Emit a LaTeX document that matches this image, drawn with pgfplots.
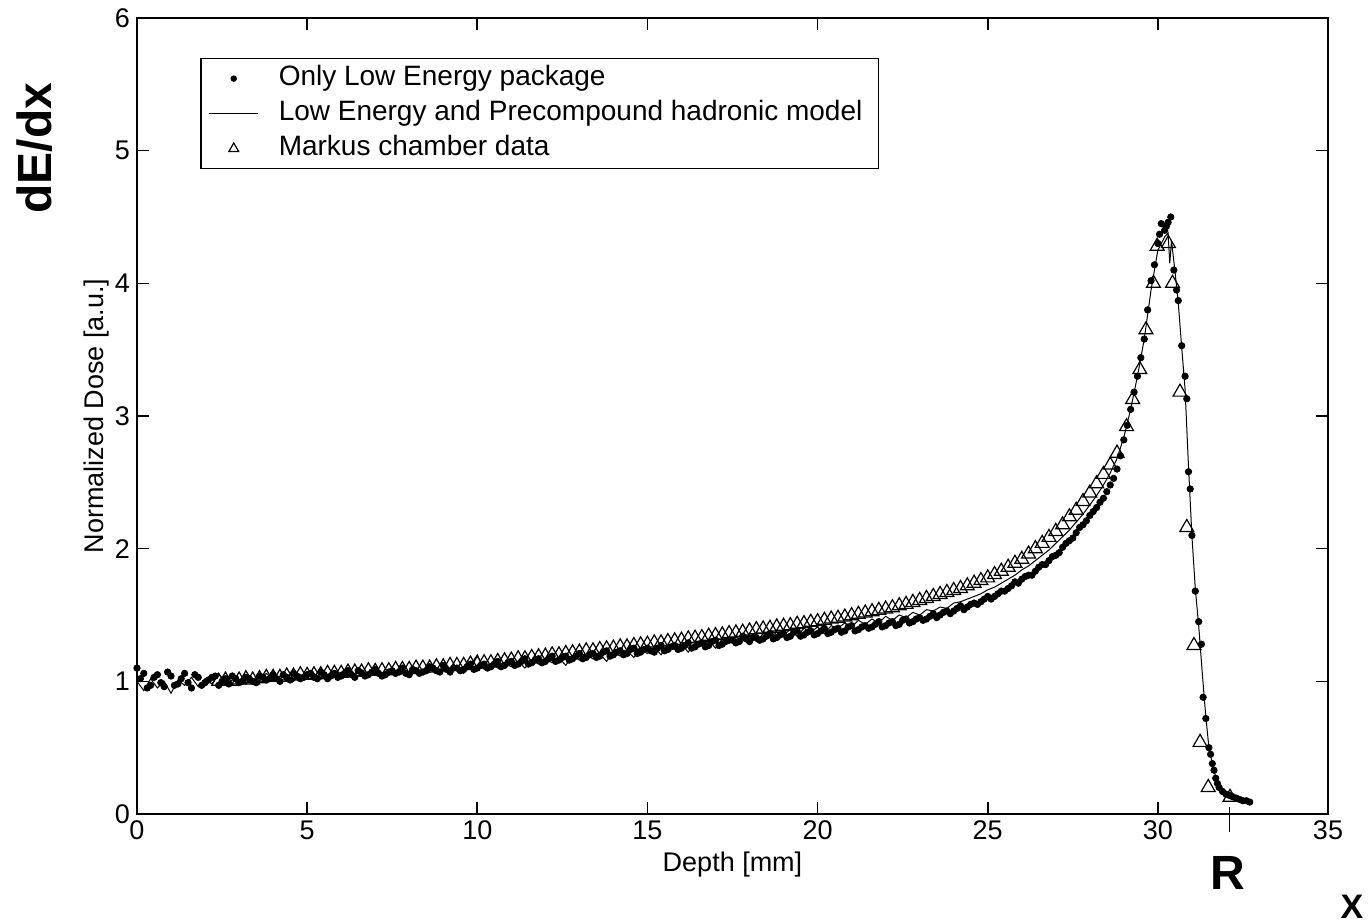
\documentclass[border=0pt]{standalone}
\usepackage{pgfplots}
\pgfplotsset{compat=1.18}
\usepackage{fontspec}
\setmainfont{Liberation Sans}
\begin{document}
\begin{tikzpicture}
\useasboundingbox (-68.5pt,-54.5pt) rectangle (616pt,407pt);
\begin{axis}[
 at={(0,0)}, anchor=south west,
 width=595.5pt, height=398pt, scale only axis,
 xmin=0, xmax=35, ymin=0, ymax=6,
 xtick={0,5,...,35}, ytick={0,1,...,6},
 tick align=inside, major tick length=6pt,
 tick style={black, line width=0.8pt},
 axis line style={line width=0.8pt},
 /pgf/number format/assume math mode=true,
 ticklabel style={font=\fontsize{13.5}{16}\selectfont},
 xlabel={Depth [mm]}, ylabel={Normalized Dose [a.u.]},
 label style={font=\fontsize{13.5}{16}\selectfont},
 xlabel style={at={(axis description cs:0.5,-0.064)}, anchor=center},
 ylabel style={at={(axis description cs:-0.0336,0.5)}, anchor=center},
 legend cell align=left,
 legend image code/.code={\draw[mark repeat=2,mark phase=2,#1] plot coordinates {(0pt,0pt) (12.25pt,0pt) (24.5pt,0pt)};},
 legend style={at={(axis cs:1.85,5.70)}, anchor=north west, draw=black, line width=0.8pt,
   font=\fontsize{14}{16}\selectfont, inner xsep=4pt, inner ysep=2.5pt, row sep=2.5pt,
   nodes={inner ysep=1pt, inner xsep=4pt, text height=10pt, text depth=3pt},
   /tikz/every odd column/.append style={column sep=6pt}},
]
\addplot[only marks, mark=*, mark size=1.6pt, black, legend image post style={mark size=1.2pt}] table {
0.0 1.10
0.2 1.06
0.4 0.97
0.6 1.05
0.8 0.96
1.0 1.04
1.2 0.98
1.4 1.06
1.6 0.95
1.8 1.03
2.0 0.99
2.2 1.03
2.4 0.97
2.6 1.02
2.8 1.04
3.0 0.99
3.2 1.03
3.4 1.00
3.6 1.04
3.8 1.01
4.0 1.05
4.2 1.00
4.4 1.03
4.6 1.06
4.8 1.02
5.0 1.05
5.2 1.03
5.4 1.07
5.6 1.02
5.8 1.06
6.0 1.04
6.2 1.08
6.4 1.03
6.6 1.06
6.8 1.05
7.0 1.09
7.2 1.04
7.4 1.07
7.6 1.06
7.8 1.10
8.0 1.05
8.2 1.08
8.4 1.07
8.6 1.11
8.8 1.08
9.0 1.12
9.2 1.07
9.4 1.10
9.6 1.09
9.8 1.13
10.0 1.10
10.2 1.13
10.4 1.11
10.6 1.15
10.8 1.12
11.0 1.15
11.2 1.13
11.4 1.17
11.6 1.14
11.8 1.17
12.0 1.15
12.2 1.19
12.4 1.16
12.6 1.19
12.8 1.17
13.0 1.21
13.2 1.18
13.4 1.21
13.6 1.19
13.8 1.23
14.0 1.20
14.2 1.23
14.4 1.21
14.6 1.25
14.8 1.22
15.0 1.25
15.2 1.22
15.4 1.27
15.6 1.24
15.8 1.27
16.0 1.25
16.2 1.29
16.4 1.26
16.6 1.29
16.8 1.27
17.0 1.31
17.2 1.28
17.4 1.31
17.6 1.29
17.8 1.34
18.0 1.30
18.2 1.33
18.4 1.32
18.6 1.36
18.8 1.33
19.0 1.36
19.2 1.34
19.4 1.38
19.6 1.35
19.8 1.38
20.0 1.36
20.2 1.40
20.4 1.37
20.6 1.40
20.8 1.38
21.0 1.42
21.2 1.39
21.4 1.42
21.6 1.41
21.8 1.45
22.0 1.42
22.2 1.45
22.4 1.43
22.6 1.47
22.8 1.45
23.0 1.48
23.2 1.47
23.4 1.51
23.6 1.50
23.8 1.53
24.0 1.53
24.2 1.57
24.4 1.56
24.6 1.59
24.8 1.60
25.0 1.64
25.2 1.64
25.4 1.68
25.6 1.70
25.8 1.75
26.0 1.77
26.2 1.80
26.4 1.83
26.6 1.88
26.8 1.91
27.0 1.95
27.2 2.01
27.4 2.06
27.6 2.12
27.8 2.18
28.0 2.25
28.2 2.31
28.4 2.38
28.6 2.48
28.8 2.60
29.0 2.82
29.1 2.93
29.2 3.05
29.3 3.18
29.4 3.30
29.5 3.44
29.6 3.58
29.7 3.80
29.8 4.02
29.9 4.14
30.0 4.30
30.05 4.37
30.1 4.45
30.2 4.40
30.25 4.43
30.3 4.46
30.38 4.50
30.47 4.10
30.55 3.95
30.6 3.87
30.7 3.53
30.8 3.30
30.85 3.13
30.9 2.58
30.95 2.45
31.0 2.10
31.1 1.68
31.2 1.45
31.28 1.28
31.33 0.88
31.41 0.72
31.5 0.50
31.55 0.45
31.6 0.38
31.65 0.33
31.7 0.27
31.75 0.23
31.8 0.20
31.9 0.17
32.0 0.15
32.1 0.14
32.2 0.13
32.3 0.12
32.4 0.11
32.5 0.10
32.6 0.10
32.7 0.09
0.1 1.02
0.3 0.95
0.5 1.03
0.7 0.99
0.9 1.07
1.1 0.97
1.3 1.02
1.5 0.99
1.7 1.05
1.9 0.97
2.1 1.01
2.3 1.04
2.5 1.00
2.7 0.98
2.9 1.02
3.1 1.00
3.3 1.02
3.5 0.99
3.7 1.03
3.9 1.02
4.1 1.02
4.3 1.05
4.5 1.01
4.7 1.04
4.9 1.03
5.1 1.06
5.3 1.02
5.5 1.05
5.7 1.04
5.9 1.03
6.1 1.06
6.3 1.05
6.5 1.08
6.7 1.04
6.9 1.07
7.1 1.06
7.3 1.05
7.5 1.08
7.7 1.07
7.9 1.06
8.1 1.09
8.3 1.06
8.5 1.08
8.7 1.10
8.9 1.07
9.1 1.09
9.3 1.10
9.5 1.08
9.7 1.11
9.9 1.09
10.1 1.12
10.3 1.10
10.5 1.13
10.7 1.11
10.9 1.14
11.1 1.12
11.3 1.15
11.5 1.13
11.7 1.16
11.9 1.14
12.1 1.17
12.3 1.15
12.5 1.18
12.7 1.16
12.9 1.19
13.1 1.17
13.3 1.20
13.5 1.18
13.7 1.22
13.9 1.19
14.1 1.22
14.3 1.20
14.5 1.24
14.7 1.21
14.9 1.24
15.1 1.23
15.3 1.25
15.5 1.23
15.7 1.26
15.9 1.24
16.1 1.27
16.3 1.25
16.5 1.28
16.7 1.26
16.9 1.30
17.1 1.27
17.3 1.30
17.5 1.31
17.7 1.30
17.9 1.32
18.1 1.33
18.3 1.31
18.5 1.34
18.7 1.32
18.9 1.35
19.1 1.33
19.3 1.37
19.5 1.34
19.7 1.37
19.9 1.35
20.1 1.38
20.3 1.36
20.5 1.39
20.7 1.37
20.9 1.41
21.1 1.38
21.3 1.41
21.5 1.40
21.7 1.43
21.9 1.41
22.1 1.44
22.3 1.42
22.5 1.46
22.7 1.44
22.9 1.47
23.1 1.46
23.3 1.49
23.5 1.48
23.7 1.52
23.9 1.51
24.1 1.55
24.3 1.54
24.5 1.58
24.7 1.58
24.9 1.62
25.1 1.62
25.3 1.66
25.5 1.68
25.7 1.72
25.9 1.74
26.1 1.79
26.3 1.80
26.5 1.86
26.7 1.88
26.9 1.94
27.1 1.97
27.3 2.04
27.5 2.08
27.7 2.16
27.9 2.21
28.1 2.28
28.3 2.35
28.5 2.43
28.7 2.53
28.9 2.70
};
\addlegendentry{Only Low Energy package}
\addplot[black, line width=0.5pt, mark=none] table {
0.0 1.00
0.2 0.93
0.4 1.02
0.6 0.95
0.8 1.00
1.0 0.91
1.2 1.01
1.4 0.97
1.6 1.03
1.8 0.96
2.0 1.02
2.2 0.98
2.4 1.06
2.6 0.99
2.8 1.01
3.0 0.98
3.2 1.03
3.4 1.00
3.6 1.02
3.8 1.06
4.0 1.01
4.2 1.04
4.4 1.02
4.6 1.00
4.8 1.05
5.0 1.03
5.2 1.06
5.4 1.02
5.6 1.05
5.8 1.04
6.0 1.07
6.2 1.03
6.4 1.06
6.6 1.09
6.8 1.04
7.0 1.07
7.2 1.05
7.4 1.09
7.6 1.06
7.8 1.08
8.0 1.05
8.2 1.10
8.4 1.07
8.6 1.09
8.8 1.06
9.0 1.11
9.2 1.08
9.4 1.10
9.6 1.06
9.8 1.12
10.0 1.20
10.2 1.09
10.4 1.13
10.6 1.10
10.8 1.14
11.0 1.11
11.2 1.15
11.4 1.10
11.6 1.16
11.8 1.13
12.0 1.17
12.2 1.14
12.4 1.18
12.6 1.12
12.8 1.19
13.0 1.16
13.2 1.20
13.4 1.17
13.6 1.21
13.8 1.15
14.0 1.22
14.2 1.19
14.4 1.23
14.6 1.18
14.8 1.24
15.0 1.21
15.2 1.26
15.4 1.20
15.6 1.27
15.8 1.24
16.0 1.28
16.2 1.22
16.4 1.29
16.6 1.27
16.8 1.31
17.0 1.25
17.2 1.32
17.4 1.29
17.6 1.33
17.8 1.31
18.0 1.35
18.2 1.30
18.4 1.36
18.6 1.33
18.8 1.37
19.0 1.35
19.2 1.39
19.4 1.34
19.6 1.40
19.8 1.37
20.0 1.41
20.2 1.36
20.4 1.42
20.6 1.40
20.8 1.44
21.0 1.41
21.2 1.46
21.4 1.43
21.6 1.47
21.8 1.44
22.0 1.49
22.2 1.46
22.4 1.50
22.6 1.48
22.8 1.52
23.0 1.50
23.2 1.54
23.4 1.53
23.6 1.56
23.8 1.55
24.0 1.59
24.2 1.60
24.4 1.62
24.6 1.64
24.8 1.66
25.0 1.69
25.2 1.71
25.4 1.74
25.6 1.77
25.8 1.80
26.0 1.84
26.2 1.87
26.4 1.91
26.6 1.95
26.8 1.99
27.0 2.04
27.2 2.09
27.4 2.14
27.6 2.20
27.8 2.26
28.0 2.33
28.2 2.40
28.4 2.48
28.6 2.57
28.8 2.68
29.0 2.84
29.2 3.05
29.4 3.30
29.6 3.58
29.8 3.95
30.0 4.25
30.2 4.35
30.3 4.38
30.35 4.15
30.4 4.32
30.5 4.10
30.6 3.85
30.7 3.52
30.8 3.20
30.9 2.62
31.0 2.10
31.1 1.70
31.2 1.42
31.3 1.08
31.4 0.76
31.5 0.50
31.6 0.38
31.7 0.28
31.8 0.21
31.9 0.17
32.0 0.15
32.2 0.13
32.4 0.11
32.6 0.10
32.7 0.09
};
\addlegendentry{Low Energy and Precompound hadronic model}
\addplot[only marks, mark=triangle, mark size=4pt, black, mark options={line width=0.6pt}, legend image post style={mark size=2.8pt}] table {
2.4 1.00
2.6 1.01
2.8 1.00
3.0 1.01
3.2 1.02
3.4 1.01
3.6 1.02
3.8 1.03
4.0 1.03
4.2 1.03
4.4 1.04
4.6 1.04
4.8 1.05
5.0 1.045
5.2 1.05
5.4 1.05
5.6 1.06
5.8 1.06
6.0 1.06
6.2 1.07
6.4 1.07
6.6 1.07
6.8 1.08
7.0 1.075
7.2 1.08
7.4 1.08
7.6 1.09
7.8 1.09
8.0 1.09
8.2 1.10
8.4 1.10
8.6 1.10
8.8 1.11
9.0 1.11
9.2 1.12
9.4 1.12
9.6 1.12
9.8 1.13
10.0 1.13
10.2 1.14
10.4 1.14
10.6 1.15
10.8 1.155
11.0 1.16
11.2 1.17
11.4 1.17
11.6 1.18
11.8 1.185
12.0 1.19
12.2 1.20
12.4 1.20
12.6 1.21
12.8 1.215
13.0 1.22
13.2 1.23
13.4 1.23
13.6 1.24
13.8 1.245
14.0 1.25
14.2 1.26
14.4 1.26
14.6 1.27
14.8 1.275
15.0 1.28
15.2 1.29
15.4 1.29
15.6 1.30
15.8 1.305
16.0 1.31
16.2 1.32
16.4 1.325
16.6 1.33
16.8 1.34
17.0 1.345
17.2 1.35
17.4 1.36
17.6 1.365
17.8 1.37
18.0 1.38
18.2 1.39
18.4 1.395
18.6 1.40
18.8 1.41
19.0 1.415
19.2 1.42
19.4 1.43
19.6 1.435
19.8 1.445
20.0 1.45
20.2 1.46
20.4 1.47
20.6 1.475
20.8 1.485
21.0 1.495
21.2 1.505
21.4 1.515
21.6 1.525
21.8 1.535
22.0 1.545
22.2 1.555
22.4 1.57
22.6 1.58
22.8 1.595
23.0 1.61
23.2 1.625
23.4 1.64
23.6 1.655
23.8 1.67
24.0 1.685
24.2 1.70
24.4 1.72
24.6 1.74
24.8 1.76
25.0 1.78
25.2 1.805
25.4 1.83
25.6 1.86
25.8 1.89
26.0 1.92
26.2 1.96
26.4 2.00
26.6 2.04
26.8 2.085
27.0 2.13
27.2 2.18
27.4 2.24
27.6 2.29
27.8 2.355
28.0 2.42
28.2 2.49
28.4 2.56
28.6 2.63
28.8 2.72
29.08 2.92
29.26 3.125
29.47 3.35
29.65 3.65
29.87 4.00
29.98 4.28
30.31 4.30
30.43 4.00
30.65 3.18
30.85 2.16
31.06 1.27
31.24 0.54
31.48 0.20
32.12 0.126
};
\addlegendentry{Markus chamber data}
\end{axis}
\draw[line width=0.8pt] (546.2pt,3.5pt) -- (546.2pt,-9pt);
\node[font=\bfseries\fontsize{24}{28}\selectfont, rotate=90] at (-51pt,333pt) {dE/dx};
\node[font=\bfseries\fontsize{24}{28}\selectfont] at (545.5pt,-29.5pt) {R};
\node[font=\bfseries\fontsize{17}{20}\selectfont, inner sep=0pt] at (607.5pt,-46.5pt) {X};
\end{tikzpicture}
\end{document}
